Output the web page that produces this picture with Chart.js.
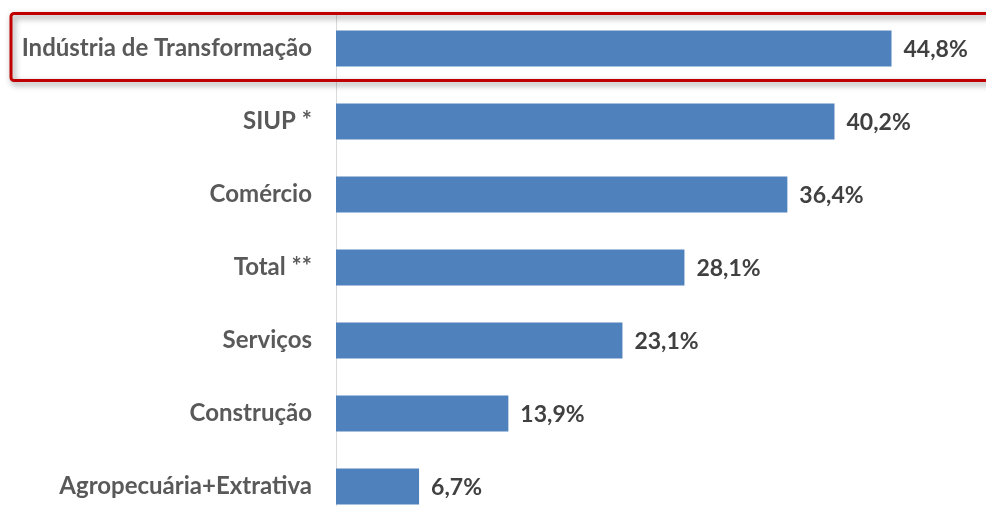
<!DOCTYPE html>
<html>
<head>
<meta charset="utf-8">
<script src="https://cdn.jsdelivr.net/npm/chart.js@4.4.1/dist/chart.umd.min.js"></script>
<style>
  html, body { margin: 0; padding: 0; background: #fff; overflow: hidden; }
  canvas { display: block; }
</style>
</head>
<body>
<canvas id="chart" width="986" height="523"></canvas>
<script>
const categories = ['Indústria de Transformação', 'SIUP *', 'Comércio', 'Total **', 'Serviços', 'Construção', 'Agropecuária+Extrativa']
const values = [44.8, 40.2, 36.4, 28.1, 23.1, 13.9, 6.7]

const fmt = v => v.toFixed(1).replace('.', ',') + '%'

// value labels to the right of each bar
const valueLabels = {
    id: 'valueLabels',
    afterDatasetsDraw(chart) {
        const ctx = chart.ctx
        const meta = chart.getDatasetMeta(0)
        ctx.save()
        ctx.font = 'bold 23px Lato'
        ctx.fillStyle = '#404040'
        ctx.textBaseline = 'middle'
        meta.data.forEach((bar, i) => {
            ctx.fillText(fmt(values[i]), bar.x + 12, bar.y + 1)
        })
        ctx.restore()
    }
}

// red highlight box round the first row
const highlight = {
    id: 'highlight',
    afterDraw(chart) {
        const ctx = chart.ctx
        const y = chart.scales.y.getPixelForValue(0)
        ctx.save()
        ctx.shadowColor = 'rgba(0,0,0,0.45)'
        ctx.shadowBlur = 6
        ctx.shadowOffsetX = 2
        ctx.shadowOffsetY = 3
        ctx.strokeStyle = '#c00000'
        ctx.lineWidth = 3
        ctx.beginPath()
        ctx.roundRect(11, y - 35, 1100, 67, 3)
        ctx.stroke()
        ctx.restore()
    }
}

new Chart(document.getElementById('chart'), {
    type: 'bar',
    data: {
        labels: categories,
        datasets: [{
            data: values,
            backgroundColor: '#4f81bd',
            barPercentage: 0.49,
            categoryPercentage: 1
        }]
    },
    options: {
        indexAxis: 'y',
        responsive: false,
        animation: false,
        layout: { padding: { top: 12, right: 30, left: 0, bottom: 0 } },
        plugins: {
            legend: { display: false },
            tooltip: { enabled: false }
        },
        scales: {
            x: {
                display: false,
                min: 0,
                max: 50
            },
            y: {
                afterFit(scale) {
                    scale.width = 336
                    scale.paddingTop = 0
                    scale.paddingBottom = 0
                },
                grid: { display: true, drawOnChartArea: false, drawTicks: false },
                border: { display: true, color: '#d9d9d9', width: 1 },
                ticks: {
                    padding: 24,
                    color: '#595959',
                    font: { family: 'Lato', size: 24, weight: 'bold' }
                }
            }
        }
    },
    plugins: [valueLabels, highlight]
})
</script>
</body>
</html>
